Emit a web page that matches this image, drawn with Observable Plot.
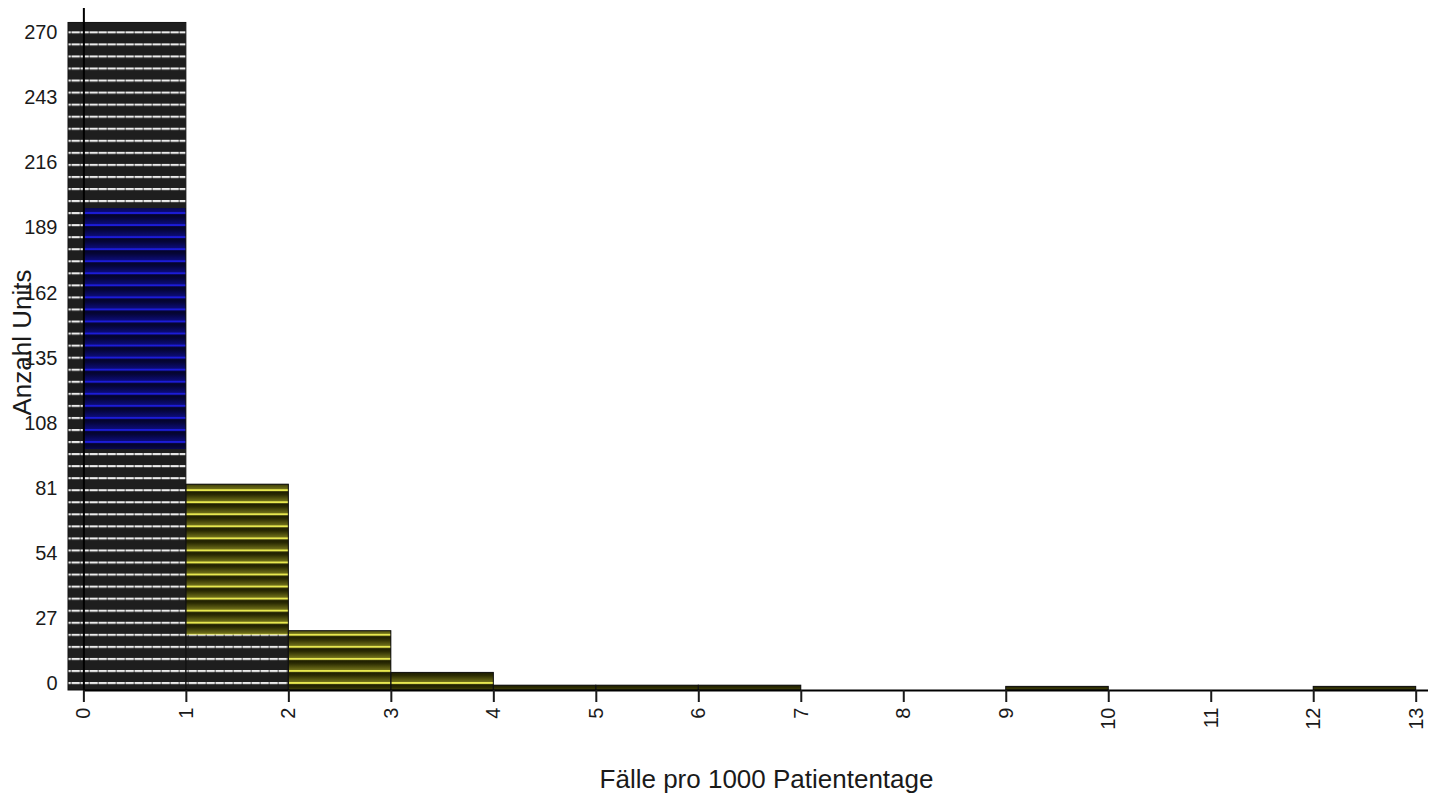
<!DOCTYPE html>
<html><head><meta charset="utf-8">
<script src="https://cdn.jsdelivr.net/npm/d3@7"></script>
<script src="https://cdn.jsdelivr.net/npm/@observablehq/plot@0.6"></script>
<style>body{margin:0;background:#fff;} svg{display:block}</style>
</head><body><div id="chart"></div>
<script>
// Histogram bins (Fälle pro 1000 Patiententage)
const binStart = [0, 1, 2, 3, 4, 5, 6, 7, 8, 9, 10, 11, 12];
const binEnd   = [1, 2, 3, 4, 5, 6, 7, 8, 9, 10, 11, 12, 13];
const firstBinLeft = -0.15;
// total height of each bar (Anzahl Units)
const total      = [277, 85.4, 24.6, 7.3, 2, 2, 2, 0, 0, 1.5, 0, 0, 1.5];
// highlighted (blue) segment
const blueLow    = [100, 0, 0, 0, 0, 0, 0, 0, 0, 0, 0, 0, 0];
const blueHigh   = [200, 0, 0, 0, 0, 0, 0, 0, 0, 0, 0, 0, 0];
// highlighted (yellow) segment
const yellowLow  = [0, 23, 0, 0, 0, 0, 0, 0, 0, 0, 0, 0, 0];
const yellowHigh = [0, 85.4, 24.6, 7.3, 2, 2, 2, 0, 0, 1.5, 0, 0, 1.5];
// axes
const xTicks = [0, 1, 2, 3, 4, 5, 6, 7, 8, 9, 10, 11, 12, 13];
const yTicks = [0, 27, 54, 81, 108, 135, 162, 189, 216, 243, 270];
const xDomain = [-0.15, 13.12];
const yDomain = [0, 283];
const blockSize = 5;     // units per stripe block
const stripePhase = 2.9; // first stripe position (units)
const xTitle = "Fälle pro 1000 Patiententage";
const yTitle = "Anzahl Units";

const rows = binStart.map((s, i) => ({
  x1: i === 0 ? firstBinLeft : s, bx1: s, x2: binEnd[i], total: total[i],
  blueLow: blueLow[i], blueHigh: blueHigh[i], yellowLow: yellowLow[i], yellowHigh: yellowHigh[i]
}));

const plot = Plot.plot({
  width: 1438, height: 802,
  marginLeft: 68, marginRight: 10, marginTop: 8, marginBottom: 112,
  style: {fontFamily: "'Liberation Sans', Arial, Helvetica, sans-serif", fontSize: "20px", color: "#1a1a1a", background: "#fff"},
  x: {domain: xDomain},
  y: {domain: yDomain},
  marks: [
    Plot.rect(rows.filter(d => d.total > 0), {x1: "x1", x2: "x2", y1: 0, y2: "total", fill: "url(#pBlack)"}),
    Plot.rect(rows.filter(d => d.blueHigh > d.blueLow), {x1: "bx1", x2: "x2", y1: "blueLow", y2: "blueHigh", fill: "url(#pBlue)"}),
    Plot.rect(rows.filter(d => d.yellowHigh > d.yellowLow), {x1: "bx1", x2: "x2", y1: "yellowLow", y2: "yellowHigh", fill: "url(#pYellow)"}),
    Plot.rect(rows.filter(d => d.total > 0), {x1: "x1", x2: "x2", y1: 0, y2: "total", fill: "none", stroke: "#111", strokeWidth: 1}),
    Plot.ruleY([0], {x1: 0, x2: xDomain[1], stroke: "#000", strokeWidth: 2}),
    Plot.ruleX([0], {y1: 0, y2: yDomain[1], stroke: "#000", strokeWidth: 2}),
    Plot.axisX({ticks: xTicks, tickSize: 12, tickPadding: 5, tickRotate: -90, strokeWidth: 2, fontSize: 20, label: null, tickFormat: d => String(d)}),
    Plot.axisY({ticks: yTicks, tickSize: 0, tickPadding: 11, dy: -7, fontSize: 20, label: null, tickFormat: d => String(d)}),
    Plot.text([xTitle], {frameAnchor: "bottom", textAnchor: "middle", dx: 18, dy: 97, fontSize: 26, fill: "#1a1a1a"}),
    Plot.text([yTitle], {frameAnchor: "left", textAnchor: "middle", rotate: -90, dx: -46, dy: -7, fontSize: 26, fill: "#1a1a1a"})
  ]
});

const ys = plot.scale("y");
const P = ys.apply(0) - ys.apply(blockSize);
const py = ys.apply(stripePhase) - 1;
const defs = `
<defs>
  <linearGradient id="gY" x1="0" y1="0" x2="0" y2="1">
    <stop offset="0" stop-color="#121200"/><stop offset="0.45" stop-color="#2a2a02"/><stop offset="1" stop-color="#72721a"/>
  </linearGradient>
  <linearGradient id="gB" x1="0" y1="0" x2="0" y2="1">
    <stop offset="0" stop-color="#02021e"/><stop offset="0.45" stop-color="#050538"/><stop offset="1" stop-color="#0c0c7a"/>
  </linearGradient>
  <pattern id="pYellow" patternUnits="userSpaceOnUse" x="0" y="${py}" width="20" height="${P}">
    <rect width="20" height="${P}" fill="url(#gY)"/>
    <rect width="20" height="2" fill="#e8e850"/>
  </pattern>
  <pattern id="pBlue" patternUnits="userSpaceOnUse" x="0" y="${py}" width="20" height="${P}">
    <rect width="20" height="${P}" fill="url(#gB)"/>
    <rect width="20" height="2" fill="#1c1cd8"/>
  </pattern>
  <pattern id="pBlack" patternUnits="userSpaceOnUse" x="0" y="${py}" width="9" height="${P}">
    <rect width="9" height="${P}" fill="#1e1e1e"/>
    <rect width="9" height="2" fill="#8c8c8c"/>
    <rect width="7.5" height="2" fill="#ececec"/>
  </pattern>
</defs>`;
plot.insertAdjacentHTML("afterbegin", defs);
document.getElementById("chart").appendChild(plot);
</script>
</body></html>
